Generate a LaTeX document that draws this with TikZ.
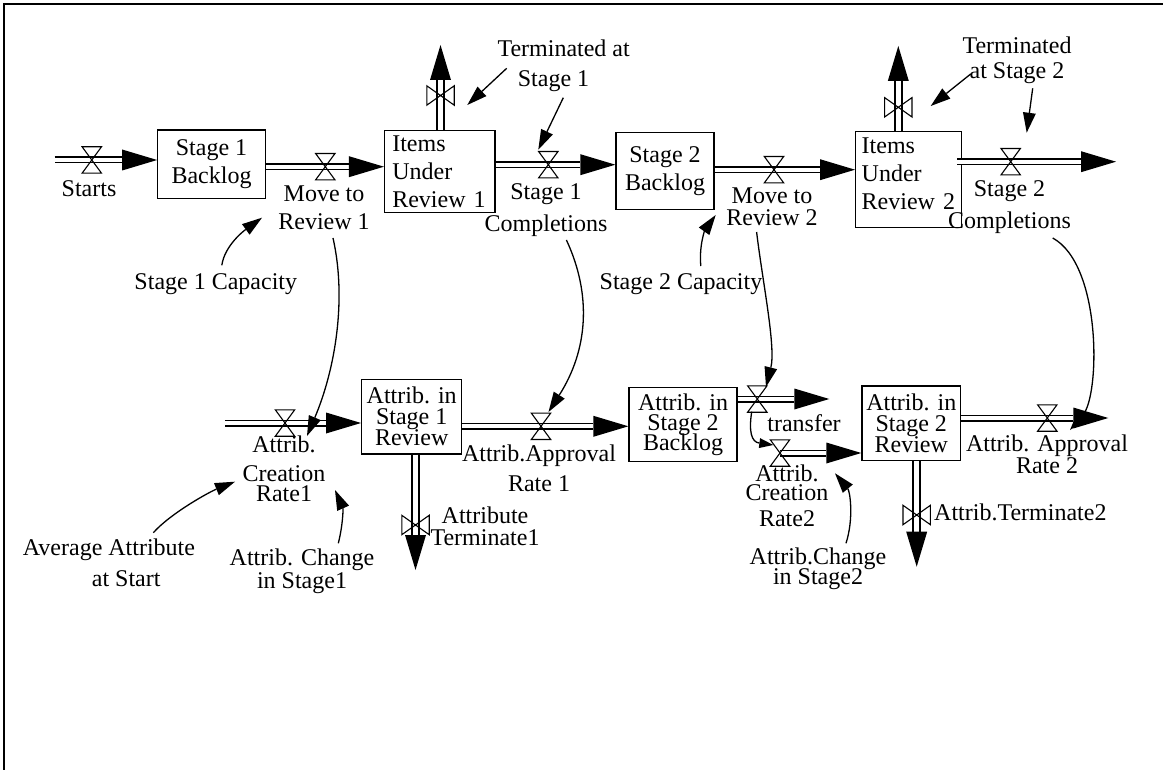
\documentclass[tikz,border=0pt]{standalone}
\usepackage{fontspec}
\setmainfont{Liberation Serif}
\usetikzlibrary{arrows.meta,calc}
\setlength{\lineskiplimit}{-100pt}
\begin{document}
\begin{tikzpicture}[x=1pt,y=-1pt,
  txt/.style={font=\fontsize{24}{#1}\selectfont},
  txt/.default=28,
  lbl/.style={txt=#1, inner sep=0pt, anchor=base, align=center},
  lbl/.default=28,
  stock/.style={draw, line width=1.3pt, inner sep=0pt, align=center},
  valveh/.style={inner sep=0pt, minimum width=19pt, minimum height=26pt},
  valvev/.style={inner sep=0pt, minimum width=27pt, minimum height=19pt},
  valveline/.style={line width=1.1pt, line join=miter},
  pipe/.style={double, line width=1.5pt, double distance=4pt,
    -{Triangle[length=35pt,width=21pt,line width=0pt]}},
  pipev/.style={pipe, double distance=5.5pt},
  link/.style={line width=1.3pt, -{Triangle[length=20pt,width=13pt,line width=0pt]}}
]
\useasboundingbox (0,0) rectangle (1163,770);
% outer frame
\draw[line width=1.2pt] (4,770) -- (4,4) -- (1163,4);

% stocks, upper chain
\node[stock, txt=28, minimum width=107.5pt, minimum height=68.3pt] (b1) at (211.5,164.2) {Stage 1\\Backlog};
\node[stock, txt=28, align=left, text width=95pt, minimum width=110.4pt, minimum height=82pt] (iur1) at (439.8,171.5) {Items\\Under\\Review 1};
\node[stock, txt=28, minimum width=98pt, minimum height=77pt] (b2) at (665,170.8) {Stage 2\\Backlog};
\node[stock, txt=28, align=left, text width=94pt, minimum width=106pt, minimum height=96pt] (iur2) at (908.7,179.7) {Items\\Under\\Review 2\\[-15.6pt]\mbox{}};

% stocks, attribute chain
\node[stock, txt=21, minimum width=100pt, minimum height=74.7pt] (a1) at (411.7,416.7) {Attrib. in\\Stage 1\\Review};
\node[stock, txt=20, minimum width=108pt, minimum height=74.2pt] (a2) at (683,424.6) {Attrib. in\\Stage 2\\Backlog};
\node[stock, txt=21, minimum width=98.7pt, minimum height=74.7pt] (a3) at (911.3,423.3) {Attrib. in\\Stage 2\\Review};

% valves
\node[valveh] (vs)   at (91.8,160)   {};
\node[valveh] (vm1)  at (325.3,166.7) {};
\node[valveh] (vc1)  at (548.3,164.7) {};
\node[valveh] (vm2)  at (774,169.7)  {};
\node[valveh] (vc2)  at (1010.7,161.7) {};
\node[valvev] (vt1)  at (440.5,95.5) {};
\node[valvev] (vt2)  at (898.3,107.3) {};
\node[valveh] (vcr1) at (285,423)    {};
\node[valveh] (var1) at (541,426.3)  {};
\node[valveh] (vtr)  at (757.3,399)  {};
\node[valveh] (vcr2) at (780,453)    {};
\node[valveh] (var2) at (1047.3,418) {};
\node[valvev] (vat1) at (415.5,525)  {};
\node[valvev] (vat2) at (916.7,515)  {};

% open pipe ends
\coordinate (src1)   at (54.7,160);
\coordinate (snk2)   at (1116,161.7);
\coordinate (snkt1)  at (440.5,45);
\coordinate (snkt2)  at (898.3,46);
\coordinate (src2)   at (225,423);
\coordinate (snktr)  at (829.3,399);
\coordinate (snkar2) at (1108.3,418);
\coordinate (snkat1) at (415.5,570);
\coordinate (snkat2) at (916.7,566.7);

% variable names (placed on the baseline of their last line)
\node[lbl] (startslbl) at (89,197) {Starts};
\node[lbl=27.6] (mv1lbl) at (324,229.3) {Move to\\Review 1};
\node[lbl=32] (c1lbl) at (546,232) {Stage 1\\Completions};
\node[lbl=22] (mv2lbl) at (772,226) {Move to\\Review 2};
\node[lbl=31.6] (c2lbl) at (1009.5,228.3) {Stage 2\\Completions};
\node[lbl=30, anchor=base west, align=left] (term1lbl) at (497.3,86.7) {Terminated at\\\hspace*{20.4pt}Stage 1};
\node[lbl=25] (term2lbl) at (1017,79) {Terminated\\at Stage 2};
\node[lbl] (cap1lbl) at (215.8,289.3) {Stage 1 Capacity};
\node[lbl] (cap2lbl) at (681,289.3) {Stage 2 Capacity};
\node[lbl=28.4] (cr1lbl) at (284,501.7) {Attrib.\\Creation\\[-8pt]Rate1};
\node[lbl=30] (ar1lbl) at (539,491.7) {Attrib.Approval\\Rate 1};
\node[lbl=22.4] (at1lbl) at (485,545.7) {Attribute\\Terminate1};
\node[lbl=30.3, anchor=base west, align=left] (avglbl) at (22.7,586) {Average Attribute\\\hspace*{69pt}at Start};
\node[lbl=23.3] (ch1lbl) at (302,588.3) {Attrib. Change\\in Stage1};
\node[lbl] (trlbl) at (804,431.7) {transfer};
\node[lbl=19] (cr2lbl) at (787,526.7) {Attrib.\\Creation\\[7pt]Rate2};
\node[lbl=20] (ch2lbl) at (818,584) {Attrib.Change\\in Stage2};
\node[lbl=21.6] (ar2lbl) at (1047,473.3) {Attrib. Approval\\Rate 2};
\node[lbl, anchor=base west] (at2lbl) at (934,520) {Attrib.Terminate2};

% flows
\draw[pipe] (src1) -- (b1.west |- src1);
\draw[pipe] (b1.east |- vm1.center) -- (iur1.west |- vm1.center);
\draw[pipe] (iur1.east |- vc1.center) -- (b2.west |- vc1.center);
\draw[pipe] (b2.east |- vm2.center) -- (iur2.west |- vm2.center);
\draw[pipe] ($(iur2.east |- vc2.center)+(-5,0)$) -- (snk2);
\draw[pipev] (vt1.center |- iur1.north) -- (snkt1);
\draw[pipev] (vt2.center |- iur2.north) -- (snkt2);
\draw[pipe] (src2) -- (a1.west |- src2);
\draw[pipe] (a1.east |- var1.center) -- (a2.west |- var1.center);
\draw[pipe] (a2.east |- vtr.center) -- (snktr);
\draw[pipe] (vcr2.center) -- (a3.west |- vcr2.center);
\draw[pipe] (a3.east |- var2.center) -- (snkar2);
\draw[pipev] (vat1.center |- a1.south) -- (snkat1);
\draw[pipev] (vat2.center |- a3.south) -- (snkat2);

% valve symbols
\foreach \v in {vs,vm1,vc1,vm2,vc2,vcr1,var1,vtr,vcr2,var2}
  \draw[valveline] (\v.north west) -- (\v.north east) -- (\v.south west) -- (\v.south east) -- cycle;
\foreach \v in {vt1,vt2,vat1,vat2}
  \draw[valveline] (\v.north west) -- (\v.south west) -- (\v.north east) -- (\v.south east) -- cycle;

% information links
\draw[link] ($(cap1lbl.base)+(6,-24)$) .. controls +(3,-20) and +(-18,13) .. ($(mv1lbl.base)+(-62,-11.6)$);
\draw[link] ($(cap2lbl.base)+(19.8,-23.3)$) .. controls +(-2,-22) and +(-10,14) .. ($(mv2lbl.base)+(-56.3,-11)$);
\draw[link] ($(mv1lbl.base)+(9,8.7)$) .. controls +(14,62) and +(28,-66) .. ($(vcr1.center)+(22,13)$);
\draw[link] ($(c1lbl.base)+(20.4,8)$) .. controls +(25.6,55) and +(39.5,-62) .. ($(var1.center)+(7.5,-14.3)$);
\draw[link] ($(mv2lbl.base)+(-15.4,6)$) .. controls +(6,50) and +(10,-40) .. ($(vtr.center)+(8.7,-12)$);
\draw[link] ($(c2lbl.base)+(43.2,9.7)$) .. controls +(49.3,27) and +(30,-35) .. ($(var2.center)+(22.7,12)$);
\draw[link] ($(avglbl.base west)+(130.6,-53.3)$) .. controls +(18,-20) and +(-25,10) .. ($(cr1lbl.base)+(-49,-20)$);
\draw[link] ($(ch1lbl.base)+(36.3,-45)$) .. controls +(5,-20) and +(8,18) .. ($(cr1lbl.base)+(51,-11.7)$);
\draw[link] ($(ch2lbl.base)+(28,-40.7)$) .. controls +(8,-25) and +(15,18) .. ($(vcr2.center)+(55,20.3)$);
\draw[link] ($(term1lbl.base west)+(9.4,-18.4)$) -- ($(vt1.center)+(26.8,9.5)$);
\draw[link] ($(term1lbl.base west)+(66,11)$) -- ($(vc1.center)+(-10,-15)$);
\draw[link] ($(term2lbl.base)+(-46.3,-5)$) -- ($(vt2.center)+(32.4,-1.3)$);
\draw[link] ($(term2lbl.base)+(15.7,9.3)$) -- ($(vc2.center)+(16,-29)$);
\draw[link, -{Triangle[length=14pt,width=10pt,line width=0pt]}] ($(vtr.center)+(-5.6,12.7)$) .. controls +(-3,20) and +(-22,-3) .. ($(vcr2.center)+(-6.7,-8)$);
\end{tikzpicture}
\end{document}
